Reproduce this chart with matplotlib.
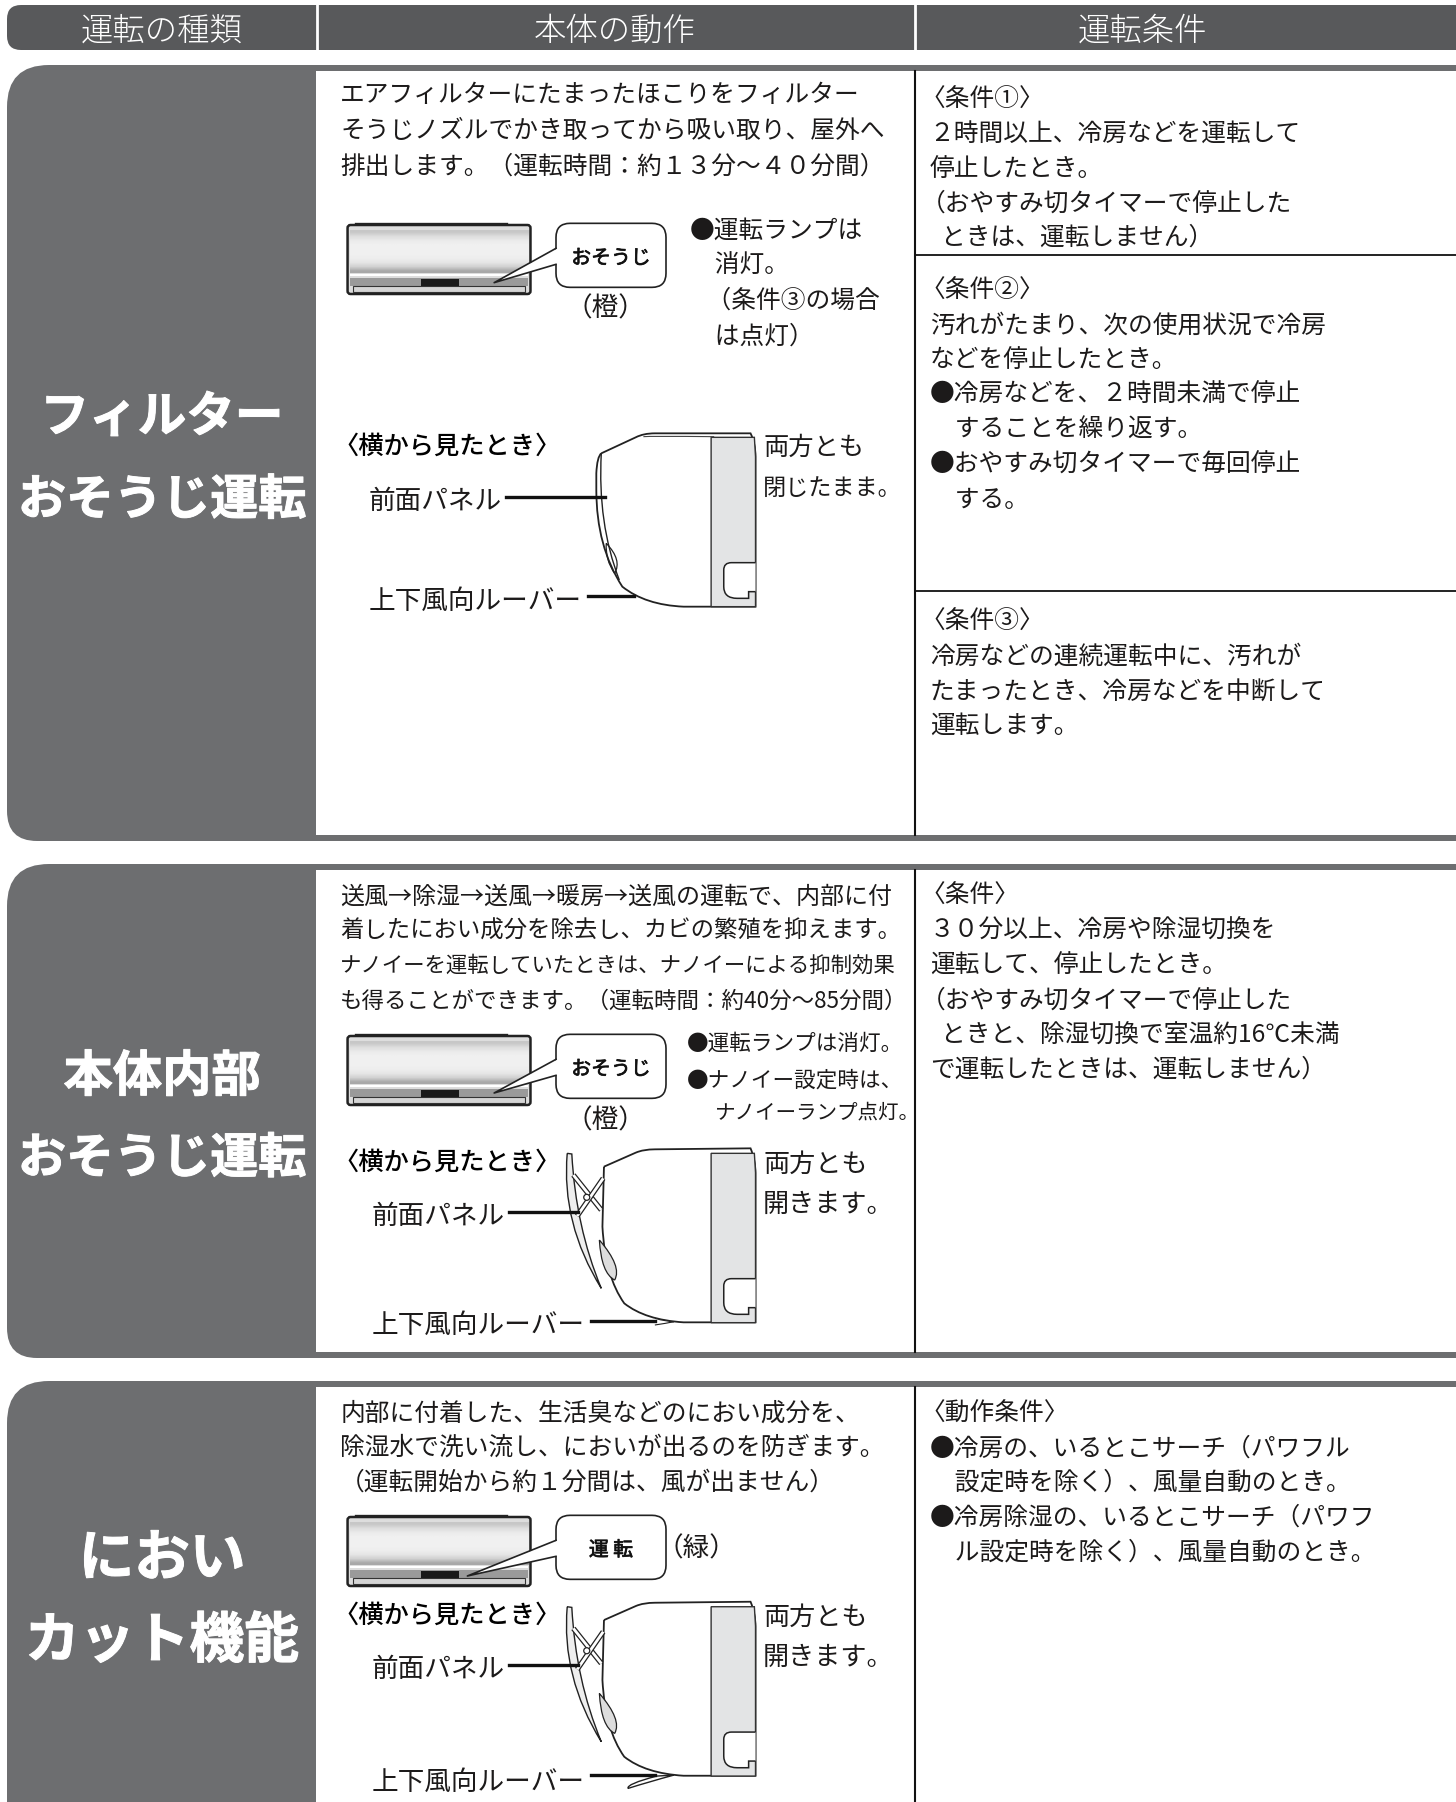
import numpy as np
import matplotlib
matplotlib.use("Agg")
import matplotlib.pyplot as plt
import matplotlib.patheffects as pe
from matplotlib.path import Path
from matplotlib.patches import PathPatch, Rectangle, FancyBboxPatch, Circle, Polygon

plt.rcParams['font.family'] = ['Noto Sans CJK JP', 'DejaVu Sans']

S = 1456 / 1267
DARK = "#58595b"
PANEL = "#6d6e70"
INK = "#1c1a1a"
BODY = 17.8
LABEL = 19.2

headers = ["運転の種類", "本体の動作", "運転条件"]
titles = [["フィルター", "おそうじ運転"], ["本体内部", "おそうじ運転"], ["におい", "カット機能"]]
title_sizes = [[35, 34.6], [35.5, 34.6], [40, 39.5]]

desc1 = ["エアフィルターにたまったほこりをフィルター",
         "そうじノズルでかき取ってから吸い取り、屋外へ",
         "排出します。（運転時間：約１３分～４０分間）"]
lamp1 = ["●運転ランプは", "　消灯。", "   （条件③の場合", "　は点灯）"]
cond1a = ["〈条件①〉", "２時間以上、冷房などを運転して", "停止したとき。",
          "（おやすみ切タイマーで停止した", "  ときは、運転しません）"]
cond1b = ["〈条件②〉", "汚れがたまり、次の使用状況で冷房", "などを停止したとき。",
          "●冷房などを、２時間未満で停止", "　することを繰り返す。",
          "●おやすみ切タイマーで毎回停止", "　する。"]
cond1c = ["〈条件③〉", "冷房などの連続運転中に、汚れが", "たまったとき、冷房などを中断して", "運転します。"]

desc2 = ["送風→除湿→送風→暖房→送風の運転で、内部に付",
         "着したにおい成分を除去し、カビの繁殖を抑えます。",
         "ナノイーを運転していたときは、ナノイーによる抑制効果",
         "も得ることができます。（運転時間：約40分～85分間）"]
desc2_right = [778, 786, 781, 790]
lamp2 = ["●運転ランプは消灯。", "●ナノイー設定時は、"]
lamp2_right = [786, 786]
lamp2_last = ["ナノイーランプ点灯。"]
cond2 = ["〈条件〉", "３０分以上、冷房や除湿切換を", "運転して、停止したとき。",
         "（おやすみ切タイマーで停止した", "  ときと、除湿切換で室温約16℃未満",
         "で運転したときは、運転しません）"]

desc3 = ["内部に付着した、生活臭などのにおい成分を、",
         "除湿水で洗い流し、においが出るのを防ぎます。",
         "（運転開始から約１分間は、風が出ません）"]
cond3 = ["〈動作条件〉", "●冷房の、いるとこサーチ（パワフル", "　設定時を除く）、風量自動のとき。",
         "●冷房除湿の、いるとこサーチ（パワフ", "　ル設定時を除く）、風量自動のとき。"]

side_view = "〈横から見たとき〉"
panel_lbl = "前面パネル"
louver_lbl = "上下風向ルーバー"
both_closed = ["両方とも", "閉じたまま。"]
both_closed_right = [752, 785]
both_open = ["両方とも", "開きます。"]


def T(ax, x, y, s, size=BODY, **kw):
    # x, y
    kw.setdefault("color", INK)
    kw.setdefault("va", "center")
    return ax.text(x * S, (y + 2) * S, s, fontsize=size, **kw)


def block(ax, lines, x, y, step, size=BODY, right=None):
    for i, s in enumerate(lines):
        x0 = x
        if s[0] == "〈" or (s[0] == "（" and x > 800):
            x0 = x - 8
        t = T(ax, x0, y + i * step, s, size)
        if right is not None:
            w = t.get_window_extent(fig.canvas.get_renderer()).width
            t.set_fontsize(size * (right[i] - x0) * S / w)


def left_panel(ax, y0, y1, r0, r1):
    x0, x1 = 7, 316
    verts = [(x1, y0), (x0 + r0, y0), (x0, y0), (x0, y0 + r0), (x0, y1 - r1), (x0, y1), (x0 + r1, y1), (x1, y1), (x1, y0)]
    codes = [Path.MOVETO, Path.LINETO, Path.CURVE3, Path.CURVE3, Path.LINETO, Path.CURVE3, Path.CURVE3, Path.LINETO, Path.CLOSEPOLY]
    ax.add_patch(PathPatch(Path(verts, codes), fc=PANEL, ec="none"))


def zp(pts, oy):
    # crop pixels -> figure pixels
    return [(320 + a / 2.613, oy + b / 3) for a, b in pts]


def draw_path(ax, segs, oy, **kw):
    verts, codes = [], []
    for seg in segs:
        if len(seg) == 1:
            codes += [Path.LINETO if verts else Path.MOVETO]
        else:
            codes += [Path.CURVE3, Path.CURVE3]
        verts += seg
    ax.add_patch(PathPatch(Path(zp(verts, oy), codes), **kw))


def front_unit(ax, oy, tip, label):
    x0, y0 = zp([(72, 105)], oy)[0]
    x1, y1 = zp([(550, 312)], oy)[0]
    w = x1 - x0
    ax.plot([x0 + 8, x0 + 158], [y0 - 1, y0 - 1], color="#222222", lw=2.4, zorder=3)
    ax.add_patch(FancyBboxPatch((x0, y0), w, y1 - y0, boxstyle="round,pad=0,rounding_size=3",
                                fc="#dddddd", ec="#222222", lw=1.8, zorder=3))
    grad = np.array([0.78, 0.87, 0.92, 0.94, 0.94, 0.94, 0.93, 0.90, 0.82, 0.66])[:, None]
    ax.imshow(grad, cmap="gray", vmin=0, vmax=1, aspect="auto", zorder=4,
              extent=(x0 + 2, x1 - 2, y0 + 48, y0 + 5), interpolation="bilinear")
    ax.add_patch(Rectangle((x0 + 2, y0 + 49), w - 4, 1.5, fc="white", ec="none", zorder=4))
    ax.add_patch(Rectangle((x0 + 2, y0 + 53), w - 4, 8, fc="#9a9a9a", ec="none", zorder=4))
    ax.add_patch(Rectangle((x0 + 73, y0 + 54), 38, 7, fc="#1a1a1a", ec="none", zorder=5))
    ax.add_patch(Rectangle((x0 + 5, y0 + 61), w - 10, 6, fc="#d5d5d5", ec="#333333", lw=0.8, zorder=4))
    bx0, bx1 = 556, 666
    by0 = oy + 100 / 3
    by1 = by0 + 64
    ax.add_patch(FancyBboxPatch((bx0, by0), bx1 - bx0, by1 - by0, boxstyle="round,pad=0,rounding_size=14",
                                fc="white", ec="#222222", lw=1.2, zorder=6))
    tx, ty = zp([tip], oy)[0]
    ym = (by0 + by1) / 2
    ax.add_patch(Polygon([(bx0 + 1.5, ym - 7), (tx, ty), (bx0 + 1.5, ym + 9)], closed=True, fc="white", ec="none", zorder=7))
    ax.plot([bx0, tx, bx0], [ym - 7, ty, ym + 9], color="#222222", lw=1.2, zorder=7)
    ax.text((bx0 + bx1) / 2, ym + 3, label, fontsize=14.3, color="#111111", ha="center", va="center", zorder=8,
            path_effects=[pe.withStroke(linewidth=0.5, foreground="#111111")])


def side_parts(ax, oy):
    # grey end cap and drain cover, same in every drawing of the unit
    ax.add_patch(Polygon(zp([(1022, 742), (1135, 742), (1138, 800), (1138, 1250), (1022, 1250)], oy), closed=True,
                         fc="#e3e4e5", ec="#333333", lw=1, zorder=3))
    draw_path(ax, [[(1138, 1118)], [(1075, 1118)], [(1055, 1118), (1055, 1140)], [(1055, 1190)],
                   [(1055, 1225), (1090, 1225)], [(1120, 1225)], [(1120, 1205)], [(1138, 1205)]],
              oy, fc="white", ec="#222222", lw=1.1, zorder=4)


def closed_unit(ax, oy):
    draw_path(ax, [[(735, 790)], [(825, 742)], [(845, 730), (875, 730)], [(1125, 730)], [(1138, 760), (1138, 800)],
                   [(1138, 1250)], [(950, 1250)], [(850, 1245), (790, 1190)], [(722, 1070), (722, 900)],
                   [(722, 850)], [(724, 800), (735, 790)]], oy, fc="white", ec="#222222", lw=1.3, zorder=2)
    side_parts(ax, oy)
    draw_path(ax, [[(845, 740)], [(860, 738), (1030, 740)]], oy, fc="none", ec="#444444", lw=0.8, zorder=3)
    draw_path(ax, [[(735, 790)], [(725, 1000), (782, 1170)]], oy, fc="none", ec="#222222", lw=1, zorder=3)
    draw_path(ax, [[(748, 1060)], [(790, 1110), (770, 1150)], [(745, 1110), (748, 1060)]], oy, fc="none", ec="#222222", lw=0.9, zorder=3)
    ax.plot(*zip(*zp([(487, 921), (745, 921)], oy)), color="#111111", lw=2.4, zorder=5)
    ax.plot(*zip(*zp([(700, 1219), (820, 1219)], oy)), color="#111111", lw=2.4, zorder=5)


def open_unit(ax, oy, flap):
    draw_path(ax, [[(742, 470)], [(825, 428)], [(845, 418), (875, 418)], [(1125, 415)], [(1138, 450), (1138, 490)],
                   [(1138, 937)], [(950, 937)], [(850, 930), (795, 880)], [(745, 800), (738, 650)], [(742, 470)]],
              oy, fc="white", ec="#222222", lw=1.3, zorder=2)
    side_parts(ax, oy - 104)
    draw_path(ax, [[(646, 430)], [(630, 640), (735, 835)], [(668, 650), (658, 432)], [(646, 430)]],
              oy, fc="#eeeeee", ec="#222222", lw=1, zorder=3)
    for a, b in [((662, 495), (735, 600)), ((740, 505), (672, 618))]:
        xs, ys = zip(*zp([a, b], oy))
        ax.plot(xs, ys, color="#222222", lw=3.8, zorder=3, solid_capstyle="butt")
        ax.plot(xs, ys, color="white", lw=2, zorder=3, solid_capstyle="butt")
    cx, cy = zp([(697, 562)], oy)[0]
    ax.add_patch(Circle((cx, cy), 3, fc="white", ec="#222222", lw=0.9, zorder=4))
    draw_path(ax, [[(730, 690)], [(790, 770), (770, 810)], [(735, 790), (730, 690)]], oy, fc="#dddddd", ec="#222222", lw=0.9, zorder=3)
    ax.plot(*zip(*zp([(495, 606), (675, 606)], oy)), color="#111111", lw=2.4, zorder=5)
    ax.plot(*zip(*zp([(708, 934), (875, 934)], oy)), color="#111111", lw=2.4, zorder=5)
    if flap:
        draw_path(ax, [[(925, 935)], [(860, 955), (805, 975)], [(800, 962), (880, 938)], [(925, 935)]],
                  oy, fc="white", ec="#222222", lw=1, zorder=4)
    else:
        draw_path(ax, [[(875, 925)], [(905, 935), (925, 935)], [(905, 940), (875, 945)]],
                  oy, fc="white", ec="#222222", lw=0.8, zorder=4)


fig = plt.figure(figsize=(14.56, 18.02), dpi=100)
ax = fig.add_axes([0, 0, 1, 1])
ax.set_xlim(0, 1456)
ax.set_ylim(1802, 0)
ax.axis("off")

# header bar
ax.add_patch(FancyBboxPatch((7, 5), 1500, 45, boxstyle="round,pad=0,rounding_size=14", fc=DARK, ec="none"))
for x in (316.5, 914.5):
    ax.plot([x, x], [5, 50], color="white", lw=2)
for s, x in zip(headers, (162, 615, 1142)):
    ax.text(x, 31, s, color="white", fontsize=23.3, ha="center", va="center", fontweight="light")

# sections
bold = [pe.withStroke(linewidth=0.7, foreground="white")]
for (y0, y1, r0, r1), ttl, ty, sz in zip([(65, 841, 42, 30), (864, 1358, 42, 30), (1381, 1840, 42, 0)], titles,
                                         [(363, 435), (937, 1008), (1357, 1428)], title_sizes):
    left_panel(ax, y0, y1, r0, r1)
    ax.add_patch(Rectangle((316, y0), 1140, 6, fc=PANEL, ec="none"))
    if y1 < 1802:
        ax.add_patch(Rectangle((316, y1 - 6), 1140, 6, fc=PANEL, ec="none"))
    ax.plot([915, 915], [y0 + 6, y1 - 6], color="#111111", lw=1.5)
    for s, y, fs in zip(ttl, ty, sz):
        ax.text(162, y * S, s, color="white", fontsize=fs, fontweight="bold", ha="center", va="center", path_effects=bold)

ax.plot([915, 1456], [255, 255], color="#111111", lw=1.3)
ax.plot([915, 1456], [591, 591], color="#111111", lw=1.3)

# section 1
block(ax, desc1, 296, 81, 31)
block(ax, lamp1, 600, 199, 30.5)
block(ax, cond1a, 809, 85, 30)
block(ax, cond1b, 809, 251, 30.3)
block(ax, cond1c, 809, 539, 30.3)
front_unit(ax, 190, (455, 278), "おそうじ")
T(ax, 527, 267, "（橙）", LABEL, ha="center")
closed_unit(ax, 190)
T(ax, 290, 387, side_view, 18.2, fontweight="medium", color="#000000")
T(ax, 321, 434, panel_lbl, LABEL)
T(ax, 321, 521, louver_lbl, LABEL)
block(ax, both_closed, 664, 388, 35, 18.8, right=both_closed_right)

# section 2
block(ax, desc2, 296, 778, 30.3, right=desc2_right)
block(ax, lamp2, 598, 906, 32, right=lamp2_right)
block(ax, lamp2_last, 622, 966, 32, 14.8)
block(ax, cond2, 809, 778, 30.2)
front_unit(ax, 1001, (455, 276), "おそうじ")
T(ax, 527, 973, "（橙）", LABEL, ha="center")
open_unit(ax, 1010, False)
T(ax, 290, 1010, side_view, 18.2, fontweight="medium", color="#000000")
T(ax, 323, 1057, panel_lbl, LABEL)
T(ax, 323, 1151, louver_lbl, LABEL)
block(ax, both_open, 664, 1011, 35, 18.8)

# section 3
block(ax, desc3, 296, 1228, 30)
block(ax, cond3, 809, 1228, 30.2)
front_unit(ax, 1482, (385, 282), "運 転")
T(ax, 606, 1346, "（緑）", LABEL, ha="center")
open_unit(ax, 1463.4, True)
T(ax, 290, 1404, side_view, 18.2, fontweight="medium", color="#000000")
T(ax, 323, 1451, panel_lbl, LABEL)
T(ax, 323, 1549, louver_lbl, LABEL)
block(ax, both_open, 664, 1405, 35, 18.8)

ax.set_xlim(0, 1456)
ax.set_ylim(1802, 0)
fig.savefig("out.png", dpi=100)
